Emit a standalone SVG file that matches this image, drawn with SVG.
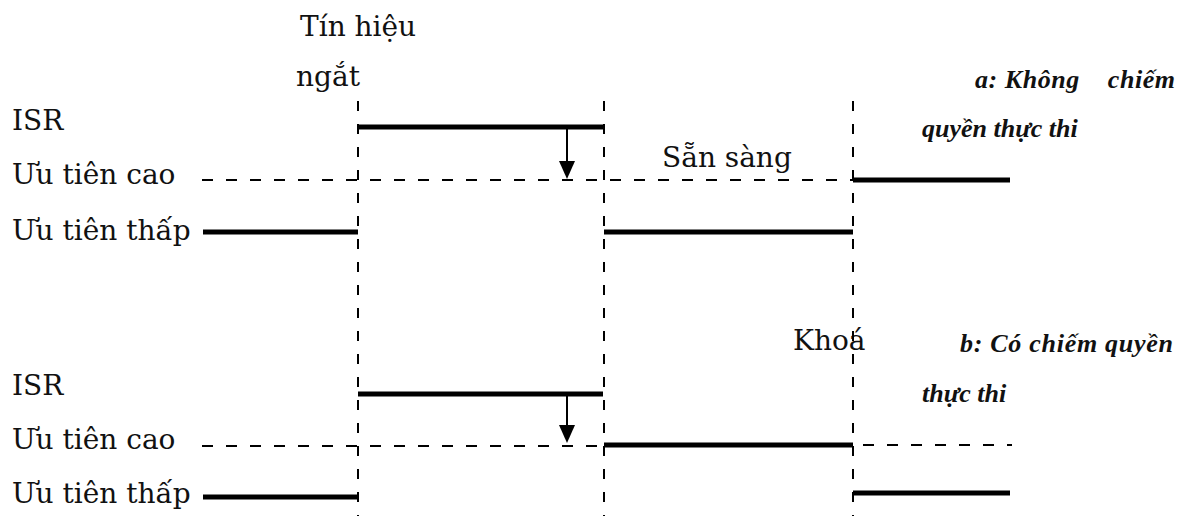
<svg xmlns="http://www.w3.org/2000/svg" width="1185" height="516" viewBox="0 0 1185 516">
<style>
.lbl{font-family:"DejaVu Serif","Liberation Serif",serif;font-size:28px;fill:#111}
.note{font-family:"Liberation Serif",serif;font-size:26px;font-weight:bold;font-style:italic;fill:#111;white-space:pre}
.thick{stroke:#000;stroke-width:5;fill:none}
.dash{stroke:#000;stroke-width:2;stroke-dasharray:11 13;fill:none}
.vdash{stroke:#000;stroke-width:2;stroke-dasharray:10 13;fill:none}
.arrow{stroke:#000;stroke-width:2;fill:none}
.head{fill:#000}
</style>
<rect width="1185" height="516" fill="#fff"/>
<g id="labels">
<text class="lbl" x="300" y="36">Tín hiệu</text>
<text class="lbl" x="296" y="86">ngắt</text>
<text class="lbl" x="12" y="130">ISR</text>
<text class="lbl" x="12" y="184">Ưu tiên cao</text>
<text class="lbl" x="12" y="240">Ưu tiên thấp</text>
<text class="lbl" x="662" y="167">Sẵn sàng</text>
<text class="lbl" x="12" y="395">ISR</text>
<text class="lbl" x="12" y="449">Ưu tiên cao</text>
<text class="lbl" x="12" y="503">Ưu tiên thấp</text>
<text class="lbl" x="793" y="350">Khoá</text>
</g>
<g id="note-a">
<text class="note" x="975" y="88" xml:space="preserve" textLength="200" lengthAdjust="spacing">a: Không    chiếm</text>
<text class="note" x="922" y="137">quyền thực thi</text>
</g>
<g id="note-b">
<text class="note" x="960" y="352" textLength="213" lengthAdjust="spacing">b: Có chiếm quyền</text>
<text class="note" x="922" y="402">thực thi</text>
</g>
<g id="connectors">
<line class="vdash" x1="358" y1="101" x2="358" y2="516"/>
<line class="vdash" x1="604" y1="101" x2="604" y2="516"/>
<line class="vdash" x1="853" y1="101" x2="853" y2="516"/>
<line class="thick" x1="358" y1="127" x2="603" y2="127"/>
<line class="dash" x1="202" y1="180" x2="853" y2="180"/>
<line class="thick" x1="203" y1="232" x2="358" y2="232"/>
<line class="thick" x1="604" y1="232" x2="853" y2="232"/>
<line class="thick" x1="853" y1="180" x2="1010" y2="180"/>
<line class="arrow" x1="567" y1="127" x2="567" y2="162"/>
<path class="head" d="M559,161 L575,161 L567,179 Z"/>
<line class="thick" x1="358" y1="394" x2="603" y2="394"/>
<line class="dash" x1="202" y1="446" x2="604" y2="446"/>
<line class="thick" x1="604" y1="445" x2="853" y2="445"/>
<line class="dash" x1="863" y1="445" x2="1012" y2="445"/>
<line class="thick" x1="203" y1="497" x2="358" y2="497"/>
<line class="thick" x1="853" y1="493" x2="1010" y2="493"/>
<line class="arrow" x1="567" y1="394" x2="567" y2="426"/>
<path class="head" d="M559,425 L575,425 L567,443 Z"/>
</g>
</svg>
